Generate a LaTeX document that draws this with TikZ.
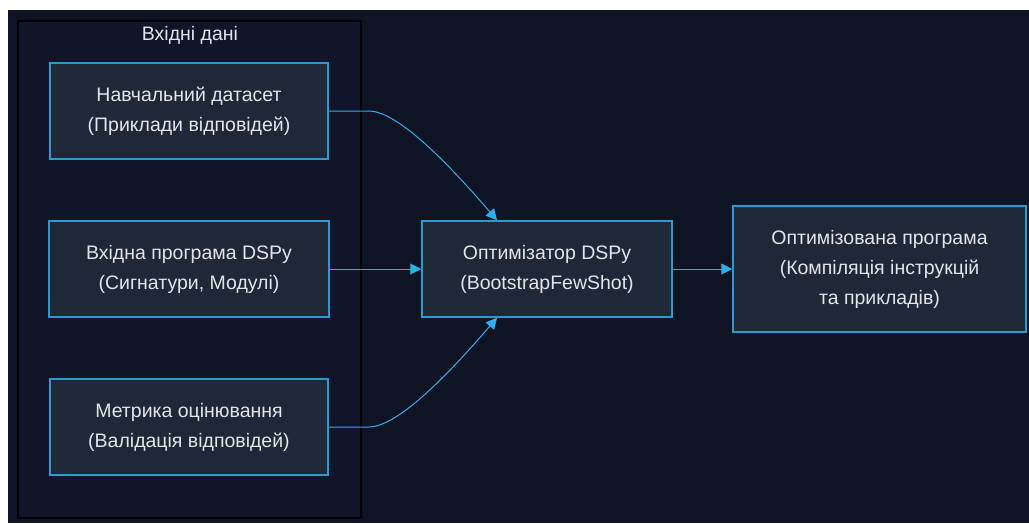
\documentclass[tikz,border=0pt]{standalone}
\usepackage{fontspec}
\setmainfont{Liberation Sans}
\usetikzlibrary{arrows.meta,calc}
\definecolor{bg}{HTML}{0F1424}
\definecolor{grpfill}{HTML}{10152A}
\definecolor{boxfill}{HTML}{1F2836}
\definecolor{boxline}{HTML}{2A9AD0}
\definecolor{arr}{HTML}{2AB0EE}
\definecolor{txt}{HTML}{E2E6EA}
\tikzset{
  stepbox/.style={draw=boxline, line width=1.5pt, fill=boxfill, text=txt, align=center,
    font=\fontsize{19.5}{30}\selectfont, inner sep=0pt},
  conn/.style={draw=arr, line width=1pt, -{Triangle[length=11pt,width=11pt]}},
}
\begin{document}
\begin{tikzpicture}[x=1pt,y=-1pt]
\useasboundingbox (0,0) rectangle (1029,523);
\fill[white] (0,0) rectangle (1029,523);
\fill[bg] (8,10) rectangle (1029,523);
\draw[black, line width=1.5pt, fill=grpfill] (18,21) rectangle (361,518);
\node[text=txt, font=\fontsize{19.5}{22}\selectfont] (title) at (190,35) {Вхідні дані};
\node[stepbox, minimum width=278pt, minimum height=96pt] (b1) at (189,111) {Навчальний датасет\\(Приклади відповідей)};
\node[stepbox, minimum width=280pt, minimum height=96pt] (b2) at (189,269) {Вхідна програма DSPy\\(Сигнатури, Модулі)};
\node[stepbox, minimum width=278pt, minimum height=96pt] (b3) at (189,427) {Метрика оцінювання\\(Валідація відповідей)};
\node[stepbox, minimum width=250pt, minimum height=96pt] (opt) at (547,269) {Оптимізатор DSPy\\(BootstrapFewShot)};
\node[stepbox, minimum width=293pt, minimum height=126pt] (out) at (879.5,269) {Оптимізована програма\\(Компіляція інструкцій\\та прикладів)};
\coordinate (optT) at ($(opt.north)+(-50,0)$);
\coordinate (optB) at ($(opt.south)+(-50,0)$);
\draw[conn] (b1.east) -- ++(40,0) .. controls +(25,0) and +(-60,-70) .. (optT);
\draw[conn] (b3.east) -- ++(40,0) .. controls +(25,0) and +(-60,70) .. (optB);
\draw[conn] (b2.east) -- (opt.west);
\draw[conn] (opt.east) -- (out.west);
\end{tikzpicture}
\end{document}
